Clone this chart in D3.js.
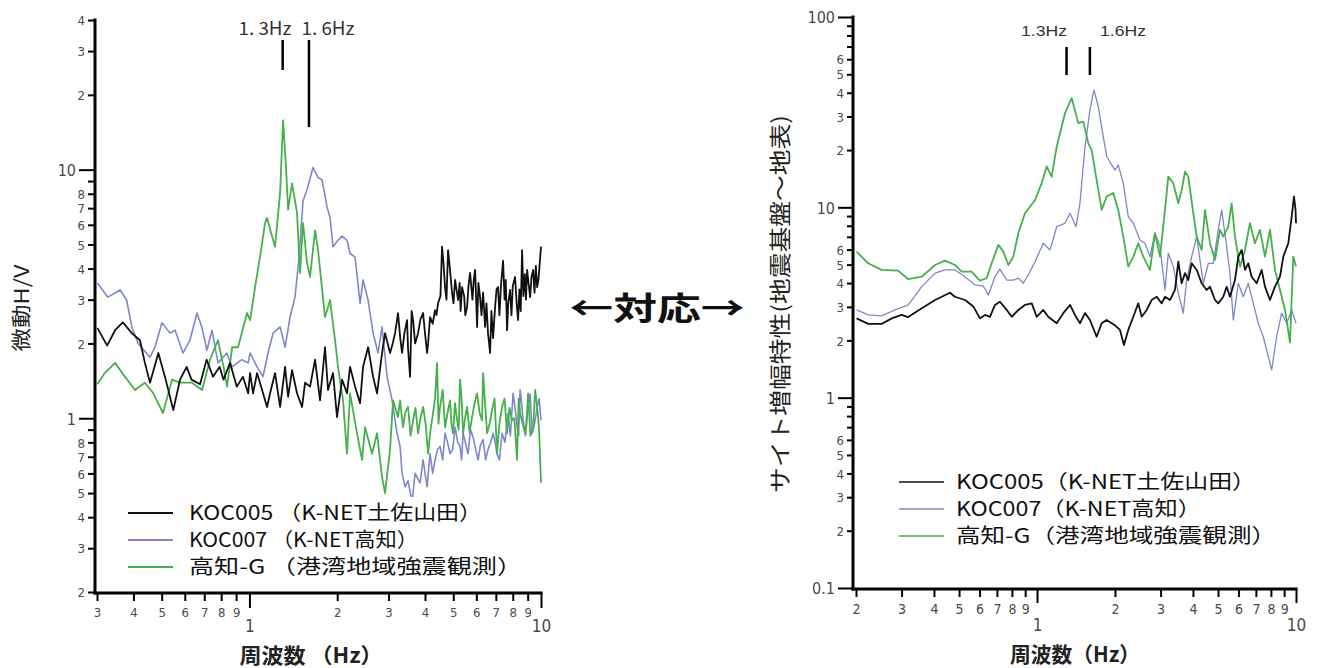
<!DOCTYPE html>
<html><head><meta charset="utf-8">
<script src="https://cdn.jsdelivr.net/npm/d3@7"></script>
<style>
body{margin:0;background:#fff;}
svg{display:block;}
</style></head><body>
<svg id="chart" width="1325" height="668"></svg>
<script>
// ---- Left panel: microtremor H/V spectral ratio ----
const leftKOC005 = [
[0.301,2.31],[0.325,1.96],[0.346,2.26],[0.368,2.43],[0.395,2.2],[0.421,2.06],[0.438,1.67],[0.456,1.39],[0.487,1.83],[0.513,1.47],[0.548,1.08],[0.578,1.43],[0.609,1.61],[0.633,1.43],[0.677,1.37],[0.713,1.72],[0.75,1.47],[0.79,1.61],[0.815,1.43],[0.858,1.67],[0.905,1.34],[0.95,1.47],[0.99,1.26],
[1.005,1.52],[1.029,1.26],[1.062,1.52],[1.105,1.30],[1.149,1.11],[1.177,1.26],[1.224,1.52],[1.274,1.11],[1.325,1.61],[1.357,1.22],[1.40,1.56],[1.456,1.26],[1.515,1.11],[1.552,1.39],[1.614,1.34],[1.679,1.72],[1.746,1.18],[1.816,1.93],[1.86,1.30],[1.935,1.52],[1.997,1.01],[2.078,1.43],[2.161,1.26],[2.213,1.61],[2.303,1.34],[2.396,1.15],[2.453,1.61],[2.552,1.93],[2.655,1.47],[2.739,1.26],[2.85,1.83],[2.918,2.2],[3.036,1.83],[3.159,2.2],[3.233,2.65],[3.338,1.83],[3.472,2.48],[3.556,1.47],[3.641,2.48],[3.788,2.2],[3.941,2.65],[4.067,1.83],[4.164,2.55],[4.331,2.72],[4.435,2.9],
[3.1,2.0],[3.29,2.1],[3.4,2.2],[3.5,1.9],[3.6,2.7],[3.7,2.0],[3.86,2.5],[4.0,2.2],[4.1,2.0],[4.25,2.4],[4.38,2.6],
[4.577,4.9],[4.687,3.37],[4.8,4.75],[4.955,3.19],[5.074,3.6],[5.196,2.99],[5.362,3.37],[5.578,2.8],[5.711,3.84],[5.942,3.95],[6.036,2.33],[6.181,3.07],[6.43,2.33],[6.689,1.83],[6.958,2.8],[7.125,3.37],[7.412,4.3],[7.649,2.26],[7.832,3.28],[8.149,3.7],[8.345,2.48],[8.614,4.75],[8.962,3.95],[9.178,3.07],[9.399,3.95],[9.7,3.37],[10.0,4.9],
[4.52,3.1],[4.63,4.2],[4.74,3.0],[4.88,3.9],[5.01,2.9],[5.13,3.3],[5.26,3.5],[5.30,2.7],[5.45,3.1],[5.5,2.6],[5.64,3.4],[5.82,3.0],[5.88,3.6],[6.0,2.9],[6.1,3.5],[6.25,2.6],[6.33,3.2],[6.5,2.9],[6.58,2.2],[6.76,2.7],[6.85,2.1],[7.04,3.3],[7.2,2.6],[7.3,3.5],[7.5,3.0],[7.57,3.6],[7.72,2.9],[7.92,2.6],[8.0,3.4],[8.25,2.9],[8.43,3.3],[8.52,2.7],[8.7,3.1],[8.8,3.8],[8.88,3.0],[9.06,3.5],[9.28,3.7],[9.5,3.2],[9.6,4.1],[9.8,3.6],[9.9,4.2]
];
const leftKOC007 = [
[0.301,3.5],[0.327,3.07],[0.36,3.28],[0.379,2.99],[0.395,2.33],[0.415,2.0],[0.456,1.76],[0.474,1.93],[0.501,2.42],[0.534,2.2],[0.556,2.26],[0.592,1.83],[0.625,2.06],[0.661,2.65],[0.686,2.33],[0.715,1.88],[0.744,2.26],[0.78,1.67],[0.836,1.83],[0.87,1.61],[0.941,1.72],[0.99,1.67],
[1.005,1.83],[1.062,1.61],[1.113,1.47],[1.158,1.83],[1.205,2.2],[1.274,2.33],[1.325,1.93],[1.378,2.55],[1.433,3.07],[1.48,4.45],[1.527,7.5],[1.576,8.3],[1.652,10.2],[1.719,9.3],[1.774,9.1],[1.845,7.1],[1.89,6.4],[1.935,4.9],[2.013,5.2],[2.078,5.4],[2.161,5.2],[2.213,4.6],[2.303,4.45],[2.396,2.9],[2.453,3.6],[2.552,2.99],[2.655,2.2],[2.761,1.83],[2.85,2.33],[2.965,1.47],[3.085,1.18],[3.208,0.87],[3.286,0.77],[3.338,0.60],[3.418,0.53],[3.5,0.56],[3.612,0.46],[3.699,0.60],[3.848,0.55],[3.941,0.68],[4.067,0.53],[4.164,0.72],[4.331,0.68],[4.505,0.77],[4.687,0.87],[4.877,0.72],[5.074,0.92],[5.278,0.77],[5.405,0.87],[5.622,0.72],[5.848,0.84],[6.085,0.68],[6.329,0.82],[6.584,0.75],[6.849,0.87],[7.068,0.72],[7.354,0.87],[7.709,1.05],[8.021,1.26],[8.279,0.92],[8.478,1.30],[8.682,0.98],[9.033,1.11],[9.325,0.87],[9.7,1.11],[10.0,0.98],
[4.25,0.6],[4.42,0.75],[4.6,0.68],[4.78,0.8],[4.98,0.75],[5.18,0.8],[5.34,0.68],[5.5,0.8],[5.73,0.9],[5.97,0.75],[6.2,0.78],[6.46,0.68],[6.72,0.8],[6.96,0.8],[7.2,0.68],[7.52,0.8],[7.85,0.85],[8.15,1.1],[8.38,0.85],[8.58,1.15],[8.85,0.85],[9.18,1.25],[9.5,0.95],[9.85,1.2]
];
const leftKochiG = [
[0.301,1.37],[0.319,1.52],[0.346,1.67],[0.374,1.47],[0.405,1.30],[0.438,1.39],[0.468,1.26],[0.505,1.05],[0.543,1.43],[0.578,1.39],[0.635,1.39],[0.688,1.30],[0.732,1.72],[0.78,2.06],[0.815,1.61],[0.838,1.34],[0.872,1.93],[0.914,1.93],[0.981,2.65],
[1.005,2.48],[1.045,3.37],[1.087,4.45],[1.131,6.1],[1.149,6.4],[1.195,5.4],[1.224,4.9],[1.274,8.1],[1.304,15.8],[1.335,10.2],[1.357,6.9],[1.40,8.8],[1.456,6.7],[1.491,3.84],[1.527,6.1],[1.576,4.2],[1.614,3.7],[1.679,5.7],[1.719,4.75],[1.816,2.55],[1.89,2.99],[1.966,2.06],[2.013,1.61],[2.094,1.18],[2.161,0.72],[2.213,1.26],[2.339,0.87],[2.434,0.68],[2.492,0.92],[2.634,0.72],[2.739,0.87],[2.85,0.58],[2.918,0.50],[3.036,0.75],[3.109,1.18],[3.233,1.01],[3.286,1.18],[3.364,0.92],[3.5,1.11],[3.641,0.98],[3.788,0.87],[3.941,1.11],[4.099,0.72],[4.264,1.05],[4.4,1.67],[4.505,1.11],[4.687,0.92],[4.877,1.18],[4.994,0.87],[5.155,0.98],[5.278,1.43],[5.405,0.87],[5.578,1.11],[5.802,1.01],[6.036,1.26],[6.279,0.98],[6.329,1.52],[6.532,0.87],[6.795,1.08],[7.068,0.72],[7.354,1.11],[7.649,0.87],[7.958,0.98],[8.279,0.68],[8.478,1.05],[8.821,0.87],[9.033,1.26],[9.399,0.92],[9.7,1.11],[10.0,0.55],
[3.42,1.05],[3.57,0.85],[3.71,1.1],[3.86,1.0],[4.02,0.95],[4.18,0.9],[4.33,1.2],[4.45,0.95],[4.6,1.3],[4.78,1.05],[4.93,0.95],[5.07,1.15],[5.22,0.9],[5.34,1.2],[5.49,1.0],[5.69,0.88],[5.92,1.15],[6.16,1.05],[6.43,1.15],[6.66,0.95],[6.93,1.2],[7.2,0.95],[7.5,1.2],[7.8,1.1],[8.1,1.0],[8.38,1.2],[8.65,0.95],[8.93,1.0],[9.2,0.85],[9.55,1.3],[9.85,0.9]
];

// ---- Right panel: site amplification (seismic bedrock to surface) ----
const rightKOC005 = [
[0.201,2.61],[0.223,2.44],[0.251,2.44],[0.275,2.61],[0.30,2.72],[0.318,2.65],[0.359,2.95],[0.404,3.26],[0.461,3.56],[0.482,3.39],[0.527,3.26],[0.568,3.01],[0.602,2.61],[0.63,2.72],[0.658,2.66],[0.688,3.07],[0.719,3.19],[0.764,2.89],[0.799,2.66],[0.847,2.89],[0.898,3.07],[0.954,3.13],[0.997,2.66],[1.057,2.89],[1.105,2.66],[1.191,2.46],[1.263,2.78],[1.341,3.07],[1.401,2.72],[1.465,2.46],[1.532,2.78],[1.601,2.56],[1.699,2.09],[1.777,2.46],[1.858,2.56],[1.942,2.46],[2.0,2.4],[2.091,2.27],[2.166,1.89],[2.251,2.27],[2.354,2.66],[2.46,3.13],[2.536,2.66],[2.652,2.89],[2.772,3.26],[2.898,3.39],[3.03,3.13],[3.12,3.39],[3.262,3.26],[3.41,3.68],[3.512,5.18],[3.618,3.99],[3.728,4.51],[3.838,4.15],[3.956,5.08],[4.136,4.69],[4.322,3.99],[4.518,3.68],[4.654,3.83],[4.866,3.26],[5.01,3.13],[5.238,3.39],[5.398,3.83],[5.56,3.39],[5.812,4.15],[5.986,5.51],[6.17,5.97],[6.352,4.69],[6.542,5.08],[6.742,4.32],[7.05,3.99],[7.37,4.69],[7.59,3.83],[7.934,3.26],[8.296,3.83],[8.674,4.32],[8.932,5.51],[9.338,6.48],[9.624,8.94],[9.822,11.4],[9.96,9.69],[10.0,8.25]
];
const rightKOC007 = [
[0.201,2.89],[0.223,2.72],[0.251,2.69],[0.283,2.89],[0.318,3.07],[0.359,3.83],[0.404,4.51],[0.441,4.69],[0.482,4.69],[0.527,4.32],[0.576,3.91],[0.62,3.86],[0.649,3.46],[0.688,4.32],[0.719,4.73],[0.764,4.15],[0.81,4.15],[0.847,4.24],[0.885,3.99],[0.925,4.41],[0.982,5.18],[1.057,6.48],[1.122,5.97],[1.173,7.31],[1.191,7.92],[1.282,8.25],[1.341,9.31],[1.414,7.92],[1.465,10.5],[1.532,20.8],[1.601,32.5],[1.659,41.4],[1.724,33.8],[1.802,23.5],[1.858,18.5],[1.942,16.7],[2.0,15.7],[2.059,16.7],[2.153,13.4],[2.251,8.94],[2.354,8.25],[2.498,6.74],[2.612,6.48],[2.73,5.51],[2.854,7.31],[2.984,6.22],[3.12,3.68],[3.212,5.74],[3.36,4.88],[3.512,3.54],[3.67,2.78],[3.782,4.15],[3.956,5.51],[4.136,7.02],[4.258,5.29],[4.386,3.99],[4.584,5.08],[4.792,5.08],[5.01,7.61],[5.164,9.69],[5.398,6.22],[5.56,4.51],[5.726,2.56],[5.986,3.99],[6.258,3.39],[6.542,3.99],[6.84,3.13],[7.15,2.46],[7.476,2.09],[7.704,1.78],[8.054,1.40],[8.42,2.09],[8.802,2.78],[9.204,2.46],[9.624,2.89],[10.0,2.46]
];
const rightKochiG = [
[0.201,5.85],[0.223,5.08],[0.251,4.69],[0.291,4.65],[0.318,4.19],[0.359,4.32],[0.404,4.98],[0.441,5.25],[0.482,4.98],[0.512,4.59],[0.559,4.59],[0.602,4.12],[0.639,4.24],[0.668,5.08],[0.709,6.35],[0.741,5.85],[0.775,4.98],[0.81,5.51],[0.847,7.31],[0.898,9.31],[0.982,10.9],[1.042,13.4],[1.09,16.4],[1.139,14.5],[1.191,20.8],[1.282,31.2],[1.361,37.5],[1.443,27.7],[1.509,28.2],[1.578,21.7],[1.626,20.0],[1.699,13.9],[1.777,9.69],[1.858,11.4],[1.97,11.9],[2.059,9.69],[2.153,7.02],[2.251,4.88],[2.354,5.51],[2.46,6.48],[2.572,5.51],[2.73,4.69],[2.854,7.31],[2.984,5.51],[3.12,9.69],[3.212,14.5],[3.36,13.4],[3.512,10.5],[3.618,12.3],[3.728,15.4],[3.838,14.5],[4.012,9.31],[4.136,7.02],[4.322,5.97],[4.452,9.69],[4.654,6.48],[4.866,5.29],[5.086,7.61],[5.238,7.02],[5.476,7.92],[5.644,10.5],[5.812,7.02],[6.076,4.88],[6.352,5.97],[6.64,8.25],[6.942,6.48],[7.258,7.61],[7.59,5.51],[7.934,7.61],[8.296,4.69],[8.674,3.68],[9.068,2.89],[9.48,1.95],[9.762,5.51],[10.0,4.88]
];

// ---- Tick values and labels ----
const leftXTicks = [0.3,0.4,0.5,0.6,0.7,0.8,0.9,1,2,3,4,5,6,7,8,9,10];
const leftXLabels = ["3","4","5","6","7","8","9","1","2","3","4","5","6","7","8","9","10"];
const leftYTicks = [0.2,0.3,0.4,0.5,0.6,0.7,0.8,0.9,1,2,3,4,5,6,7,8,9,10,20,30,40];
const leftYLabels = ["2","3","4","5","6","7","8","","1","2","3","4","5","6","7","8","","10","2","3","4"];
const rightXTicks = [0.2,0.3,0.4,0.5,0.6,0.7,0.8,0.9,1,2,3,4,5,6,7,8,9,10];
const rightXLabels = ["2","3","4","5","6","7","8","9","1","2","3","4","5","6","7","8","9","10"];
const rightYTicks = [0.1,0.2,0.3,0.4,0.5,0.6,0.7,0.8,0.9,1,2,3,4,5,6,7,8,9,10,20,30,40,50,60,70,80,90,100];
const rightYLabels = ["0.1","2","3","4","5","6","","","","1","2","3","4","5","6","","","","10","2","3","4","5","6","","","","100"];
const majorTicks = [0.1,1,10,100];

const seriesNames = ["KOC005","KOC007","高知-G"];
const leftLegendLabels = ["KOC005 （K-NET土佐山田）","KOC007 （K-NET高知）","高知-G （港湾地域強震観測）"];
const rightLegendLabels = ["KOC005（K-NET土佐山田）","KOC007（K-NET高知）","高知-G（港湾地域強震観測）"];
const peakFreqs = [1.3,1.6];
const peakLabelsLeft = ["1. 3Hz","1. 6Hz"];
const peakLabelsRight = ["1.3Hz","1.6Hz"];

const colors = {"KOC005":"#111111","KOC007":"#7f87cc","高知-G":"#45b04c"};
const JP = "'Noto Sans CJK JP','Noto Sans',sans-serif";
const NUM = "'Liberation Sans Narrow','DejaVu Sans Condensed','Liberation Sans',sans-serif";

const svg = d3.select("#chart");
const byFreq = s => s.slice().sort((a,b)=>a[0]-b[0]);

function isMajor(d){ return majorTicks.some(m => Math.abs(m-d) < 1e-9); }

function drawPanel(p){
  const g = svg.append("g");
  const line = d3.line().x(d=>p.x(d[0])).y(d=>p.y(d[1]));
  // curves: blue under green, black on top
  [["KOC007",p.s7,p.w7],["高知-G",p.sG,p.wG],["KOC005",p.s5,p.w5]].forEach(([k,s,w])=>{
    g.append("path").datum(byFreq(s)).attr("d",line)
      .attr("fill","none").attr("stroke",colors[k]).attr("stroke-width",w)
      .attr("stroke-linejoin","round");
  });

  // legend (white backing)
  if (p.legendBox){
    g.append("rect").attr("x",p.legendBox[0]).attr("y",p.legendBox[1])
      .attr("width",p.legendBox[2]).attr("height",p.legendBox[3]).attr("fill","#fff");
  }
  seriesNames.forEach((k,i)=>{
    const ly = p.legY[i];
    g.append("line").attr("x1",p.legX[0]).attr("x2",p.legX[1]).attr("y1",ly).attr("y2",ly)
      .attr("stroke",colors[k]).attr("stroke-width",p.legW);
    g.append("text").attr("x",p.legX[2]).attr("y",ly+p.legDy)
      .attr("font-family",JP).attr("font-size",p.legFont).attr("fill","#111")
      .attr("textLength",p.legLen[i]).attr("lengthAdjust","spacingAndGlyphs")
      .text(p.legLabels[i]);
  });

  // y axis
  const ya = g.append("g").attr("transform",`translate(${p.axX},0)`)
    .call(d3.axisLeft(p.y).tickValues(p.yTicks).tickFormat((d,i)=>p.yLabels[i]).tickSizeOuter(0).tickSize(p.yMinor));
  ya.select(".domain").remove();
  ya.selectAll(".tick line").attr("stroke","#000").attr("stroke-width",2)
    .attr("x2",d=>isMajor(d)?-p.yMajor:-p.yMinor);
  ya.selectAll(".tick text").attr("fill","#4a4a4a").attr("font-family",NUM)
    .attr("font-size",d=>isMajor(d)?p.yBigFont:p.ySmallFont)
    .attr("x",d=>isMajor(d)?-(p.yMajor+3):-(p.yMinor+3)).attr("dy","0.36em");

  // x axis
  const xa = g.append("g").attr("transform",`translate(0,${p.axY})`)
    .call(d3.axisBottom(p.x).tickValues(p.xTicks).tickFormat((d,i)=>p.xLabels[i]).tickSizeOuter(0).tickSize(p.xMinor));
  xa.select(".domain").remove();
  xa.selectAll(".tick line").attr("stroke","#000").attr("stroke-width",2)
    .attr("y2",d=>isMajor(d)?p.xMajor:p.xMinor);
  xa.selectAll(".tick text").attr("fill","#4a4a4a").attr("font-family",NUM)
    .attr("font-size",d=>isMajor(d)?p.xBigFont:p.xSmallFont)
    .attr("y",d=>isMajor(d)?p.xBigY:p.xSmallY).attr("dy","0.36em");

  // axis lines
  g.append("line").attr("x1",p.axX).attr("x2",p.axX).attr("y1",p.y.range()[1]).attr("y2",p.axY)
    .attr("stroke","#000").attr("stroke-width",p.axW).attr("stroke-linecap","square");
  g.append("line").attr("x1",p.axX).attr("x2",p.x.range()[1]).attr("y1",p.axY).attr("y2",p.axY)
    .attr("stroke","#000").attr("stroke-width",p.axW).attr("stroke-linecap","square");

  // peak markers
  peakFreqs.forEach((f,i)=>{
    g.append("line").attr("x1",p.x(f)).attr("x2",p.x(f)).attr("y1",p.pkTop).attr("y2",p.pkBot[i])
      .attr("stroke","#000").attr("stroke-width",2.5);
    g.append("text").attr("x",p.pkTextX[i]).attr("y",p.pkTextY).attr("text-anchor","middle")
      .attr("font-family",p.pkFamily).attr("font-size",p.pkFont).attr("fill","#333")
      .attr("textLength",p.pkLen).attr("lengthAdjust","spacingAndGlyphs").text(p.pkLabels[i]);
  });

  // axis titles
  g.append("text").attr("x",p.xTitle[0]).attr("y",p.xTitle[1]).attr("text-anchor","middle")
    .attr("font-family",JP).attr("font-size",p.xTitle[2]).attr("font-weight","bold").attr("fill","#222")
    .attr("textLength",p.xTitle[3]).attr("lengthAdjust","spacingAndGlyphs").text(p.xTitle[4]);
  g.append("text").attr("transform",`translate(${p.yTitle[0]},${p.yTitle[1]}) rotate(-90)`)
    .attr("text-anchor","middle").attr("font-family",JP).attr("font-size",p.yTitle[2]).attr("fill","#222")
    .attr("textLength",p.yTitle[3]).attr("lengthAdjust","spacingAndGlyphs").text(p.yTitle[4]);
}

drawPanel({
  x: d3.scaleLog().domain([0.3,10]).range([97,541]),
  y: d3.scaleLog().domain([0.2,40]).range([592,20]),
  s5:leftKOC005, s7:leftKOC007, sG:leftKochiG, w5:1.8, w7:1.6, wG:1.8,
  legendBox:[112,497,426,86],
  legX:[128,173,189], legY:[513,540,567], legW:2, legDy:7, legFont:20,
  legLen:[293,229,333], legLabels:leftLegendLabels,
  axX:95, axY:593, axW:3,
  yTicks:leftYTicks, yLabels:leftYLabels, yMinor:7, yMajor:16, yBigFont:16, ySmallFont:13,
  xTicks:leftXTicks, xLabels:leftXLabels, xMinor:8, xMajor:15, xBigFont:17, xSmallFont:13, xSmallY:19, xBigY:33,
  pkTop:40, pkBot:[70,127], pkTextX:[265,328], pkTextY:35, pkFont:18, pkLen:53, pkLabels:peakLabelsLeft, pkFamily:JP,
  xTitle:[311,663,21,143,"周波数 （Hz）"],
  yTitle:[29,308,20,87,"微動H/V"]
});

drawPanel({
  x: d3.scaleLog().domain([0.2,10]).range([856,1296]),
  y: d3.scaleLog().domain([0.1,100]).range([588,17]),
  s5:rightKOC005, s7:rightKOC007, sG:rightKochiG, w5:1.8, w7:1.3, wG:1.8,
  legendBox:null,
  legX:[899,944,956], legY:[482,509,536], legW:1.6, legDy:7, legFont:20,
  legLen:[300,245,320], legLabels:rightLegendLabels,
  axX:853, axY:589, axW:3,
  yTicks:rightYTicks, yLabels:rightYLabels, yMinor:6, yMajor:15, yBigFont:16, ySmallFont:13,
  xTicks:rightXTicks, xLabels:rightXLabels, xMinor:8, xMajor:14, xBigFont:17, xSmallFont:14, xSmallY:20, xBigY:36,
  pkTop:47, pkBot:[75,75], pkTextX:[1044,1123], pkTextY:36, pkFont:15, pkLen:46, pkLabels:peakLabelsRight, pkFamily:"'Liberation Sans',sans-serif",
  xTitle:[1075,662,21,130,"周波数（Hz）"],
  yTitle:[788,304,22,378,"サイト増幅特性(地震基盤～地表)"]
});

// link between panels
svg.append("text").attr("x",657).attr("y",320).attr("text-anchor","middle")
  .attr("font-family",JP).attr("font-size",32).attr("font-weight","bold").attr("fill","#111")
  .attr("textLength",175).attr("lengthAdjust","spacingAndGlyphs").text("←対応→");
</script>
</body></html>
